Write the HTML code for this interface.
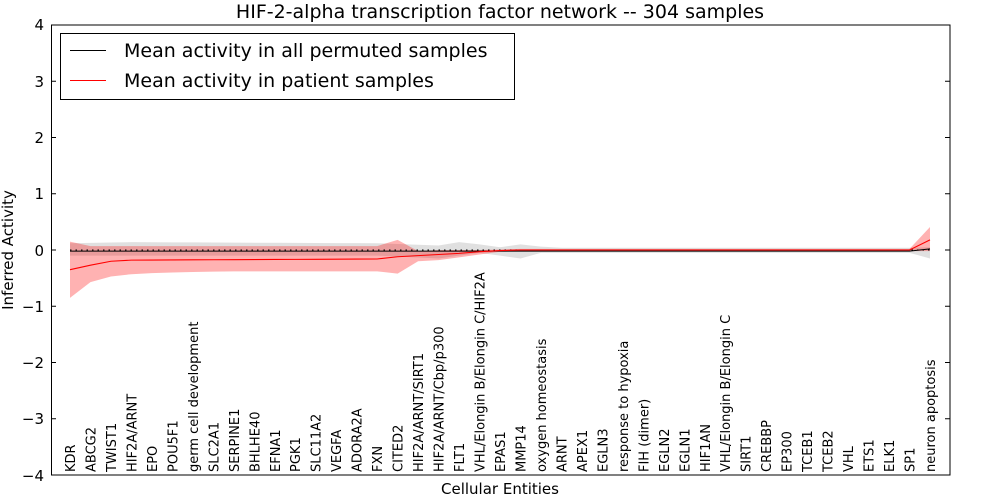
<!DOCTYPE html>
<html><head><meta charset="utf-8"><style>
body{margin:0;background:#fff}
svg{display:block;font-family:"DejaVu Sans","Liberation Sans",sans-serif}
</style></head><body>
<svg id="s" width="1000" height="500" viewBox="0 0 1000 500">
<rect width="1000" height="500" fill="#fff"/>
<g id="plot"></g>
<g font-size="13" fill="#000">
<text transform="translate(75,472) rotate(-90)">KDR</text>
<text transform="translate(95.5,472) rotate(-90)">ABCG2</text>
<text transform="translate(116,472) rotate(-90)">TWIST1</text>
<text transform="translate(136.4,472) rotate(-90)">HIF2A/ARNT</text>
<text transform="translate(156.9,472) rotate(-90)">EPO</text>
<text transform="translate(177.4,472) rotate(-90)">POU5F1</text>
<text transform="translate(197.9,472) rotate(-90)">germ cell development</text>
<text transform="translate(218.3,472) rotate(-90)">SLC2A1</text>
<text transform="translate(238.8,472) rotate(-90)">SERPINE1</text>
<text transform="translate(259.3,472) rotate(-90)">BHLHE40</text>
<text transform="translate(279.8,472) rotate(-90)">EFNA1</text>
<text transform="translate(300.2,472) rotate(-90)">PGK1</text>
<text transform="translate(320.7,472) rotate(-90)">SLC11A2</text>
<text transform="translate(341.2,472) rotate(-90)">VEGFA</text>
<text transform="translate(361.7,472) rotate(-90)">ADORA2A</text>
<text transform="translate(382.1,472) rotate(-90)">FXN</text>
<text transform="translate(402.6,472) rotate(-90)">CITED2</text>
<text transform="translate(423.1,472) rotate(-90)">HIF2A/ARNT/SIRT1</text>
<text transform="translate(443.6,472) rotate(-90)">HIF2A/ARNT/Cbp/p300</text>
<text transform="translate(464,472) rotate(-90)">FLT1</text>
<text transform="translate(484.5,472) rotate(-90)">VHL/Elongin B/Elongin C/HIF2A</text>
<text transform="translate(505,472) rotate(-90)">EPAS1</text>
<text transform="translate(525.5,472) rotate(-90)">MMP14</text>
<text transform="translate(545.9,472) rotate(-90)">oxygen homeostasis</text>
<text transform="translate(566.4,472) rotate(-90)">ARNT</text>
<text transform="translate(586.9,472) rotate(-90)">APEX1</text>
<text transform="translate(607.4,472) rotate(-90)">EGLN3</text>
<text transform="translate(627.9,472) rotate(-90)">response to hypoxia</text>
<text transform="translate(648.3,472) rotate(-90)">FIH (dimer)</text>
<text transform="translate(668.8,472) rotate(-90)">EGLN2</text>
<text transform="translate(689.3,472) rotate(-90)">EGLN1</text>
<text transform="translate(709.8,472) rotate(-90)">HIF1AN</text>
<text transform="translate(730.2,472) rotate(-90)">VHL/Elongin B/Elongin C</text>
<text transform="translate(750.7,472) rotate(-90)">SIRT1</text>
<text transform="translate(771.2,472) rotate(-90)">CREBBP</text>
<text transform="translate(791.7,472) rotate(-90)">EP300</text>
<text transform="translate(812.1,472) rotate(-90)">TCEB1</text>
<text transform="translate(832.6,472) rotate(-90)">TCEB2</text>
<text transform="translate(853.1,472) rotate(-90)">VHL</text>
<text transform="translate(873.6,472) rotate(-90)">ETS1</text>
<text transform="translate(894,472) rotate(-90)">ELK1</text>
<text transform="translate(914.5,472) rotate(-90)">SP1</text>
<text transform="translate(935,472) rotate(-90)">neuron apoptosis</text>
</g>
<g font-size="15" text-anchor="end">
<text x="44" y="30">4</text><text x="44" y="87">3</text><text x="44" y="143">2</text><text x="44" y="199">1</text><text x="44" y="256">0</text>
<text x="44" y="312">−1</text><text x="44" y="368">−2</text><text x="44" y="424">−3</text><text x="44" y="481">−4</text>
</g>
<text x="500" y="18" font-size="19" text-anchor="middle">HIF-2-alpha transcription factor network -- 304 samples</text>
<text x="500" y="494" font-size="15" text-anchor="middle">Cellular Entities</text>
<text transform="translate(13,250) rotate(-90)" font-size="15" text-anchor="middle">Inferred Activity</text>
<rect x="60.5" y="33.5" width="454" height="66" fill="#fff" stroke="#000"/>
<line x1="70" y1="50.5" x2="106" y2="50.5" stroke="#000"/>
<line x1="70" y1="80.5" x2="106" y2="80.5" stroke="#f00"/>
<text x="124" y="57" font-size="19">Mean activity in all permuted samples</text>
<text x="124" y="87" font-size="19">Mean activity in patient samples</text>
</svg>
<script>
var X=i=>70+20.476*i, Y=v=>250-56.25*v;
var N=43;
function arr(pts){var a=[];for(var i=0;i<N;i++){var v=pts[pts.length-1][1];for(var k=0;k<pts.length;k++){if(pts[k][0]==i){v=pts[k][1];break}if(pts[k][0]>i){var p=pts[k-1],q=pts[k];v=p[1]+(q[1]-p[1])*(i-p[0])/(q[0]-p[0]);break}}a.push(v)}return a}
var rm=arr([[0,-.35],[1,-.27],[2,-.2],[3,-.18],[15,-.16],[16,-.12],[17,-.1],[18,-.08],[19,-.06],[20,-.03],[21,-.01],[22,0],[41,0],[42,.18]]);
var rl=arr([[0,-.85],[1,-.57],[2,-.47],[3,-.43],[4,-.41],[6,-.39],[8,-.38],[15,-.38],[16,-.42],[17,-.2],[18,-.18],[19,-.13],[20,-.08],[21,-.03],[22,-.02],[41,-.02],[42,-.02]]);
var ru=arr([[0,.15],[1,.07],[15,.07],[16,.18],[17,-.02],[18,0],[20,0],[22,.02],[41,.02],[42,.41]]);
var gu=arr([[0,.12],[3,.14],[15,.12],[18,.08],[19,.14],[20,.1],[21,.05],[22,.1],[23,.06],[24,.04],[41,.04],[42,.05]]);
var gl=arr([[0,-.1],[15,-.1],[18,-.15],[19,-.1],[20,-.05],[21,-.1],[22,-.15],[23,-.05],[24,-.05],[41,-.05],[42,-.15]]);
function band(u,l,c,o){var d="M";for(var i=0;i<N;i++)d+=X(i)+","+Y(u[i])+" ";for(var i=N-1;i>=0;i--)d+="L"+X(i)+","+Y(l[i])+" ";return '<path d="'+d+'Z" fill="'+c+'" fill-opacity="'+o+'"/>'}
function line(a,c){var d="M";for(var i=0;i<N;i++)d+=(i?"L":"")+X(i)+","+Y(a[i])+" ";return '<path d="'+d+'" fill="none" stroke="'+c+'" stroke-width="1.1"/>'}
var bm=arr([[0,-.02],[41,-.02],[42,.02]]);
var h=band(gu,gl,"#999",.3)+band(ru,rl,"#f00",.3)+
'<line x1="70" y1="250" x2="930" y2="250" stroke="#000" stroke-dasharray="1.5,4"/>'+line(bm,"#000")+line(rm,"#f00")+
'<rect x="51.5" y="25" width="898.5" height="450" fill="none" stroke="#000"/>';
for(var v=-4;v<=4;v++){var y=Y(v);h+='<line x1="51" y1="'+y+'" x2="56" y2="'+y+'" stroke="#000"/><line x1="945" y1="'+y+'" x2="950" y2="'+y+'" stroke="#000"/>'}
document.getElementById('plot').innerHTML=h;
</script>
</body></html>
